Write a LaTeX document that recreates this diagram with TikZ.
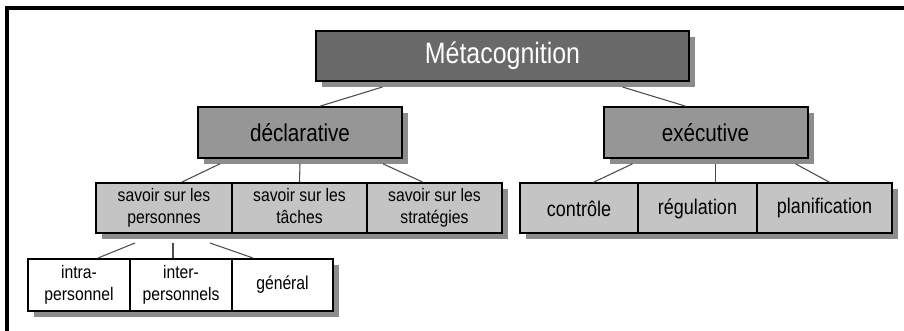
\documentclass[tikz,border=0pt]{standalone}
\usepackage{fontspec}
\setmainfont{Liberation Sans}
\usetikzlibrary{shadows,calc}

\definecolor{topgray}{gray}{0.41}
\definecolor{midgray}{gray}{0.59}
\definecolor{lowgray}{gray}{0.77}
\definecolor{shadegray}{gray}{0.55}
\definecolor{linkgray}{gray}{0.3}

\newcommand{\tall}[1]{\scalebox{1}[1.18]{#1}}
\newcommand{\twoline}[2]{\scalebox{1}[1.15]{\begin{tabular}{@{}c@{}}#1\\#2\end{tabular}}}

\begin{document}
\begin{tikzpicture}[x=0.75pt,y=0.75pt]
		\tikzstyle{every node}+=[inner sep=0pt, align=center]
		\tikzstyle{box}=[draw=black, line width=1.5pt, drop shadow={shadow xshift=4.5pt, shadow yshift=-4.5pt, fill=shadegray, opacity=1}]
		\tikzstyle{topbox}=[box, fill=topgray, text=white, minimum width=280pt, minimum height=37.5pt, font=\fontsize{18.7}{22}\selectfont]
		\tikzstyle{midbox}=[box, fill=midgray, minimum width=153pt, minimum height=38pt, font=\fontsize{15.5}{18}\selectfont]
		\tikzstyle{lowbox}=[box, fill=lowgray, minimum height=37.5pt, font=\fontsize{11.8}{14.3}\selectfont]
		\tikzstyle{subbox}=[box, fill=white, minimum width=76.5pt, minimum height=39pt, font=\fontsize{11.8}{14.3}\selectfont]
		\tikzstyle{link}=[draw=linkgray, line width=0.8pt]
		\useasboundingbox (0,0) rectangle (904,-331);
		% frame
		\draw [black, line width=2.4pt] (7,-331) -- (7,-8) -- (904,-8);
		% top and second level
		\node [topbox] (meta) at (502.5,-56) {\tall{Métacognition}};
		\node [midbox] (decl) at (300,-132.5) {\tall{déclarative}};
		\node [midbox] (exec) at (705.5,-132.5) {\tall{exécutive}};
		% third level
		\node [lowbox, minimum width=102pt] (pers) at (164,-208) {\twoline{savoir sur les}{personnes}};
		\node [lowbox, minimum width=101.25pt] (tach) at (299.5,-208) {\twoline{savoir sur les}{tâches}};
		\node [lowbox, minimum width=101.25pt] (strat) at (434.5,-208) {\twoline{savoir sur les}{stratégies}};
		\node [lowbox, minimum width=88.5pt, font=\fontsize{13.5}{16}\selectfont] (ctrl) at (579,-208.5) {\tall{contrôle}};
		\node [lowbox, minimum width=89.25pt, font=\fontsize{13.5}{16}\selectfont] (regu) at (697.5,-208.5) {\tall{régulation}};
		\node [lowbox, minimum width=101.25pt, font=\fontsize{13.5}{16}\selectfont] (plan) at (824.5,-208.5) {\tall{planification}};
		% fourth level
		\node [subbox] (intra) at (79,-285) {\twoline{intra-}{personnel}};
		\node [subbox] (inter) at (181,-285) {\twoline{inter-}{personnels}};
		\node [subbox, minimum width=75.75pt] (gene) at (282.5,-285) {\tall{général}};
		% connectors
		\draw [link] ($(meta.south)+(-120,-5)$) -- ($(decl.north)+(20,0)$);
		\draw [link] ($(meta.south)+(120,-5)$) -- ($(exec.north)+(-20,0)$);
		\draw [link] ($(decl.south)+(-80,-5)$) -- ($(pers.north)+(18,0)$);
		\draw [link] ($(decl.south)+(0,-5)$) -- (tach.north);
		\draw [link] ($(decl.south)+(83,-5)$) -- ($(strat.north)+(-12,0)$);
		\draw [link] ($(exec.south)+(-73,-5)$) -- ($(ctrl.north)+(14,0)$);
		\draw [link] ($(exec.south)+(10,-5)$) -- ($(regu.north)+(18,0)$);
		\draw [link] ($(exec.south)+(90,-5)$) -- ($(plan.north)+(5.5,0)$);
		\draw [link] ($(pers.south)+(-29,-9)$) -- ($(intra.north)+(19,0)$);
		\draw [link] ($(pers.south)+(9,-9)$) -- ($(inter.north)+(-8,0)$);
		\draw [link] ($(pers.south)+(46,-9)$) -- ($(gene.north)+(-29.5,0)$);
	\end{tikzpicture}
\end{document}
